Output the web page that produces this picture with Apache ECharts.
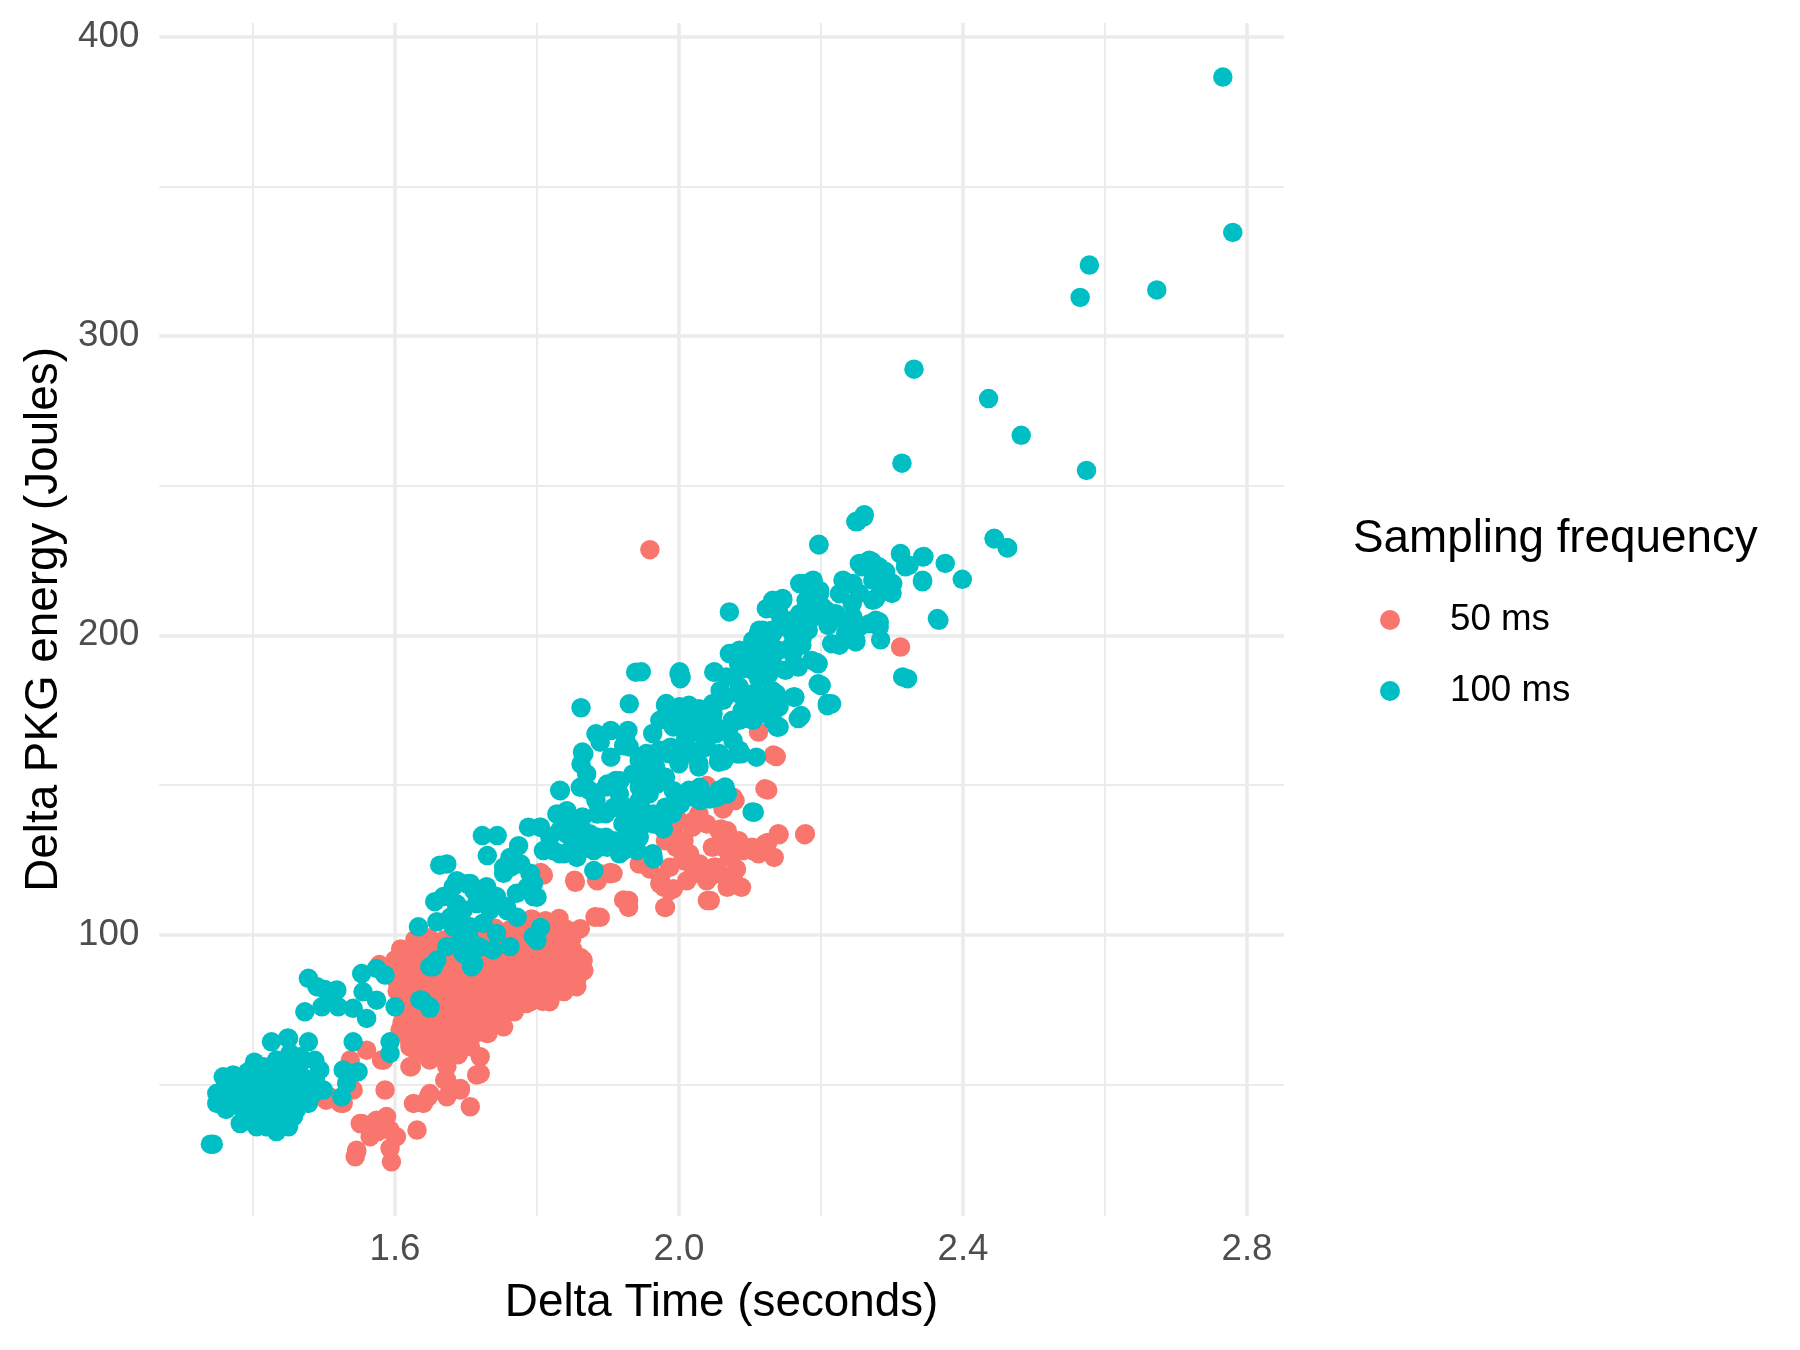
<!DOCTYPE html>
<html>
<head>
<meta charset="utf-8">
<title>Delta PKG energy vs Delta Time</title>
<script src="https://cdn.jsdelivr.net/npm/echarts@6/dist/echarts.min.js"></script>
<style>
  html, body { margin: 0; padding: 0; background: #fff; }
  #chart { width: 1800px; height: 1350px; }
</style>
</head>
<body>
<div id="chart"></div>
<script>
// legend / series names
const seriesNames = ['50 ms', '100 ms'];

// tick positions
const xMajorTicks = [1.6, 2.0, 2.4, 2.8];
const xMinorTicks = [1.4, 1.8, 2.2, 2.6];
const yMajorTicks = [100, 200, 300, 400];
const yMinorTicks = [50, 150, 250, 350];

// 50 ms sampling: [delta time (s), delta PKG energy (J)]
const pts50ms = [
  // lower left tail
  [1.560,61.4],[1.537,58.1],[1.581,58.1],[1.503,44.7],[1.508,45.8],[1.527,43.6],[1.541,48.1],[1.586,48.1],
  [1.553,36.9],[1.574,38.0],[1.588,39.2],[1.593,34.7],[1.565,32.5],[1.546,28.0],[1.544,25.8],[1.593,28.6],
  [1.595,24.1],[1.576,34.2],[1.578,90.0],[1.523,43.7],[1.551,36.9],[1.569,36.9],[1.602,32.5],[1.546,27.5],
  [1.537,49.2],
  [1.720,59.2],[1.715,53.1],[1.729,67.0],[1.706,42.5],[1.692,48.6],[1.673,45.8],[1.670,51.4],[1.673,55.9],
  [1.647,45.8],[1.640,43.6],[1.626,43.6],[1.631,34.7],[1.623,55.9],[1.649,58.1],[1.687,60.3],[1.696,64.8],
  [1.663,63.7],[1.640,64.8],[1.621,62.5],[1.607,68.1],[1.621,68.1],
  [1.584,58.1],[1.621,55.9],[1.673,60.3],[1.706,62.6],[1.720,53.6],[1.673,51.4],[1.692,48.1],[1.649,46.9],
  // dense core
  [1.792,105.2],[1.812,104.6],[1.831,105.4],
  [1.741,102.1],[1.762,101.6],[1.781,102.4],[1.800,101.8],[1.821,102.3],[1.842,101.7],[1.861,102.0],
  [1.628,98.3],[1.648,98.9],[1.669,98.2],[1.688,98.7],[1.709,98.4],[1.728,98.8],[1.749,98.1],[1.768,98.6],
  [1.789,98.3],[1.808,98.9],[1.829,98.2],[1.849,98.6],
  [1.608,95.2],[1.628,94.8],[1.649,95.3],[1.668,94.9],[1.689,95.1],[1.708,94.7],[1.729,95.3],[1.748,94.8],
  [1.769,95.2],[1.789,94.9],[1.808,95.3],[1.829,94.7],[1.850,95.1],
  [1.600,91.6],[1.619,91.3],[1.640,91.8],[1.659,91.4],[1.680,91.7],[1.699,91.2],[1.720,91.6],[1.739,91.3],
  [1.760,91.8],[1.779,91.4],[1.800,91.7],[1.819,91.2],[1.840,91.6],[1.859,91.3],
  [1.601,88.1],[1.621,87.8],[1.642,88.3],[1.661,87.9],[1.682,88.2],[1.701,87.7],[1.722,88.1],[1.741,87.8],
  [1.762,88.3],[1.781,87.9],[1.802,88.2],[1.821,87.7],[1.842,88.1],[1.861,87.9],
  [1.602,84.6],[1.622,84.3],[1.641,84.8],[1.662,84.4],[1.681,84.7],[1.702,84.2],[1.721,84.6],[1.742,84.3],
  [1.761,84.8],[1.782,84.4],[1.801,84.7],[1.822,84.2],[1.840,84.5],[1.856,84.9],
  [1.603,81.1],[1.621,80.8],[1.642,81.3],[1.661,80.9],[1.682,81.2],[1.701,80.7],[1.722,81.1],[1.741,80.8],
  [1.762,81.3],[1.781,80.9],[1.802,81.2],[1.821,80.7],[1.838,81.0],
  [1.609,77.6],[1.628,77.3],[1.649,77.8],[1.668,77.4],[1.689,77.7],[1.708,77.2],[1.729,77.6],[1.748,77.3],
  [1.769,77.8],[1.789,77.4],[1.808,77.7],
  [1.611,74.1],[1.629,73.8],[1.650,74.3],[1.669,73.9],[1.690,74.2],[1.709,73.7],[1.730,74.1],[1.749,73.8],
  [1.768,74.2],
  [1.610,70.6],[1.630,70.3],[1.651,70.8],[1.670,70.4],[1.691,70.7],[1.710,70.2],[1.731,70.6],[1.750,70.3],
  [1.612,67.1],[1.632,66.8],[1.652,67.3],[1.671,66.9],[1.692,67.2],[1.711,66.7],[1.731,67.0],
  [1.621,63.6],[1.640,63.3],[1.661,63.8],[1.680,63.4],[1.700,63.5],
  [1.632,60.1],[1.651,59.8],[1.670,60.3],[1.689,59.9],
  [1.818,77.6],[1.785,77.0],[1.753,69.2],[1.865,91.5],[1.856,82.6],[1.851,83.1],[1.818,78.2],
  // upper part of the red band
  [1.882,106.0],[1.922,111.6],[1.853,118.2],[1.884,118.2],[1.907,120.5],[1.809,119.9],[1.795,104.9],
  [1.805,120.8],[1.854,117.5],[1.885,118.0],[1.903,120.8],[1.927,110.8],[1.882,105.8],[1.861,92.4],[1.866,88.0],
  [1.981,109.1],[1.979,115.8],[1.992,115.3],[1.950,123.6],[1.974,119.2],[2.007,131.4],[2.021,138.1],
  [2.039,137.0],[2.039,149.8],[2.063,142.5],[2.068,134.7],[2.063,129.2],[2.077,127.0],[2.007,124.7],
  [2.021,122.5],[2.030,120.3],[2.011,118.0],[2.039,118.0],[2.044,111.4],[2.058,120.3],[2.077,118.0],
  [2.068,115.8],[2.049,122.5],
  [2.137,159.5],[2.125,148.3],[2.038,149.2],[2.076,145.9],[2.062,142.0],[2.029,137.5],[2.059,135.3],
  [2.141,133.4],[2.177,133.4],[2.125,130.8],[2.134,125.8],[2.104,128.1],[2.090,128.1],[2.062,129.2],
  [2.071,125.8],[2.052,122.5],[2.015,127.0],[2.029,123.6],[2.043,119.2],[2.081,121.9],[2.088,115.8],
  [2.040,111.4],[2.020,120.3],[2.006,125.8],[1.987,122.5],[1.973,117.0],[1.987,114.7],[1.980,109.1],
  [1.929,111.4],[1.929,109.1],[1.889,120.3],[1.903,120.3],[1.959,121.9],[1.944,123.6],[1.996,129.2],
  [1.992,134.7],[1.889,105.8],
  [2.112,167.7],[2.133,160.0],[2.121,148.7],[2.037,149.3],[2.070,145.9],[2.079,144.8],[2.178,133.7],
  [2.140,133.7],[2.121,130.3],[2.056,134.8],[2.084,131.4],[2.103,129.2],[2.112,127.0],[2.000,138.1],
  [2.019,135.9],[2.028,140.4],[1.981,131.4],[2.000,129.2],[2.047,129.2],
  // outliers
  [1.959,228.6],[2.312,196.1]
];

// 100 ms sampling: [delta time (s), delta PKG energy (J)]
const pts100ms = [
  // left cluster
  [1.478,85.4],[1.490,82.6],[1.501,81.7],[1.518,81.5],[1.473,74.2],[1.497,75.9],[1.508,78.1],[1.520,75.9],
  [1.541,75.4],[1.560,72.0],[1.553,87.0],[1.574,88.7],[1.586,86.5],[1.555,80.9],[1.574,78.1],[1.600,75.9],
  [1.593,64.2],[1.593,60.3],[1.541,64.2],[1.426,64.2],[1.450,65.3],[1.478,64.2],[1.466,59.2],[1.358,52.5],
  [1.375,52.5],[1.349,47.0],[1.349,43.6],[1.382,49.7],[1.400,51.4],[1.415,55.9],[1.433,58.1],[1.452,60.3],
  [1.471,58.1],[1.494,54.8],[1.499,48.1],[1.386,41.4],[1.382,36.9],[1.419,35.8],[1.433,34.2],[1.450,35.8],
  [1.410,47.0],[1.429,43.6],[1.452,42.5],[1.466,44.7],[1.476,49.2],[1.443,49.2],[1.368,44.7],[1.525,45.8],
  [1.527,54.8],[1.548,54.2],[1.532,50.3],[1.340,30.0],[1.344,30.0],
  [1.405,43.6],[1.424,51.4],[1.438,53.6],[1.457,54.8],[1.396,47.0],[1.429,39.2],[1.457,39.2],[1.478,43.6],
  [1.415,40.3],[1.438,47.0],[1.405,35.8],[1.372,45.8],[1.372,53.1],[1.449,65.5],
  [1.361,48.5],[1.391,44.1],[1.401,39.2],[1.421,45.1],[1.441,41.3],[1.461,47.2],[1.472,52.1],[1.488,51.0],
  [1.442,56.2],[1.412,50.3],[1.392,54.0],[1.451,37.6],[1.422,38.3],[1.362,41.6],[1.483,46.4],[1.431,47.6],
  [1.452,51.6],[1.402,57.4],[1.487,58.0],[1.395,37.9],[1.462,41.8],
  [1.638,78.1],[1.649,75.4],[1.654,89.3],[1.708,89.3],
  // band 90-125
  [1.663,123.2],[1.656,111.0],[1.668,112.7],[1.682,116.0],[1.706,117.1],[1.729,116.0],[1.743,112.7],
  [1.687,109.3],[1.696,108.2],[1.715,110.4],[1.734,108.2],[1.757,109.3],[1.771,113.8],[1.790,116.0],
  [1.795,112.7],[1.790,120.5],[1.753,120.5],[1.764,122.7],[1.633,102.6],[1.659,104.3],[1.682,102.6],
  [1.706,102.6],[1.724,103.8],[1.743,100.4],[1.762,96.0],[1.738,94.9],[1.797,99.3],[1.649,89.3],
  [1.659,91.5],[1.673,96.0],[1.692,98.2],[1.706,91.5],[1.708,89.3],[1.696,93.7],[1.635,78.2],[1.649,75.9],
  [1.723,133.1],[1.744,133.1],[1.730,126.4],[1.788,135.9],[1.805,135.9],[1.774,129.7],[1.762,125.8],
  [1.753,122.5],[1.777,123.6],[1.791,120.3],[1.795,117.0],[1.800,112.5],[1.786,115.8],[1.673,123.6],
  [1.687,118.0],[1.701,117.0],[1.711,114.7],[1.734,113.6],[1.744,110.2],[1.687,110.2],[1.678,105.8],
  [1.692,102.4],[1.706,102.4],[1.706,98.0],[1.720,95.8],[1.758,108.0],[1.772,105.8],[1.805,102.4],
  [1.800,98.0],[1.795,99.4],[1.711,90.2],
  // band 125-165
  [1.866,160.4],[1.889,164.3],[1.922,163.1],[1.946,158.1],[1.964,160.4],[1.988,162.6],[2.011,161.5],
  [2.039,162.6],[2.063,158.1],[2.082,160.4],[1.861,149.2],[1.870,153.7],[1.880,147.0],[1.899,150.3],
  [1.917,151.4],[1.941,152.6],[1.955,153.7],[1.969,150.3],[1.992,148.1],[2.007,145.9],[2.030,144.8],
  [2.054,145.9],[2.068,147.0],[1.833,148.1],[1.828,140.3],[1.842,141.4],[1.861,137.0],[1.885,140.3],
  [1.908,142.5],[1.927,139.2],[1.946,142.5],[1.964,140.3],[1.983,142.5],[1.842,133.6],[1.866,131.4],
  [1.885,132.5],[1.908,131.4],[1.927,132.5],[1.946,135.9],[1.964,137.0],[1.978,135.3],[1.823,128.1],
  [1.838,127.0],[1.856,125.8],[1.880,128.1],[1.899,129.2],[1.922,128.1],[1.941,128.1],[1.964,125.3],
  [1.880,121.4],[2.002,143.6],
  // band 125-205 (upper middle)
  [1.939,187.7],[2.000,187.2],[2.002,185.5],[2.049,187.7],[1.862,175.8],[1.930,177.1],[1.981,176.6],
  [2.000,176.0],[2.014,176.6],[2.028,175.5],[2.047,177.1],[2.058,181.6],[2.073,193.9],[2.084,194.4],
  [2.112,200.6],[2.131,201.7],[2.154,202.8],[2.182,201.7],[2.210,203.3],[2.215,197.2],[2.103,195.5],
  [2.121,196.1],[2.140,195.0],[2.159,196.7],[2.173,196.7],[2.187,191.6],[2.196,190.5],[2.084,190.5],
  [2.107,189.4],[2.131,190.5],[2.150,188.3],[2.168,189.4],[2.196,183.8],[2.215,177.1],[2.161,179.4],
  [2.168,172.2],[2.138,169.3],[2.121,174.9],[2.103,176.0],[2.107,180.5],[2.131,181.6],[2.112,185.5],
  [2.065,179.4],[2.084,180.5],[2.089,174.9],[2.075,171.6],[2.063,168.2],[2.084,160.4],[2.056,157.6],
  [2.028,156.0],[1.883,167.1],[1.904,168.2],[1.928,168.2],[1.864,161.0],[1.862,157.0],[1.904,159.3],
  [1.925,164.9],[1.930,162.7],[2.000,171.6],[1.991,174.9],[2.014,172.7],[2.028,169.3],[2.047,171.6],
  [2.037,166.0],[2.009,164.9],[2.019,160.4],[2.000,157.1],[2.028,157.1],[2.056,158.2],[1.986,160.4],
  [1.967,156.0],[1.981,152.6],[1.958,152.6],[1.944,158.2],[1.935,153.7],[1.944,149.3],[1.832,148.2],
  [1.841,140.4],[1.850,135.9],[1.864,139.3],[1.874,148.2],[1.883,144.8],[1.897,149.3],[1.911,151.5],
  [1.916,147.0],[1.925,142.6],[1.944,144.8],[1.958,147.0],[1.897,140.4],[1.911,142.6],[1.921,137.0],
  [1.944,138.1],[1.967,138.1],[1.981,142.6],[2.000,144.8],[2.014,148.2],[1.991,140.4],[1.804,135.9],
  [1.832,134.8],[1.818,132.5],[1.850,131.4],[1.874,133.7],[1.897,132.5],[1.925,131.4],[1.944,132.5],
  [1.963,127.0],[2.028,147.5],[2.056,148.2],[2.065,149.3],[2.103,141.0],[1.809,128.1],[1.832,127.0],
  [1.860,128.1],[1.888,129.2],[1.916,127.0],
  [2.106,140.9],[2.067,147.5],[2.043,145.3],[2.020,145.9],[2.029,149.2],[2.088,160.4],[2.062,158.1],
  // 160-215
  [2.071,207.8],[2.001,187.8],[2.003,186.1],[2.050,187.8],[1.947,187.8],[2.123,208.9],[2.132,211.7],
  [2.139,209.5],[2.113,201.7],[2.132,200.6],[2.118,197.2],[2.104,198.3],[2.085,195.0],[2.071,193.9],
  [2.099,193.9],[2.113,190.5],[2.132,190.5],[2.127,187.2],[2.104,188.3],[2.085,188.3],[2.067,186.1],
  [2.085,182.7],[2.104,180.5],[2.123,178.3],[2.137,180.5],[2.141,176.1],[2.132,171.6],[2.113,173.8],
  [2.095,176.1],[2.104,171.6],[2.085,171.6],[2.062,178.3],[2.048,173.8],[2.034,170.5],[2.015,167.2],
  [2.052,167.2],[2.071,169.4],[2.076,164.9],[2.001,176.1],[1.982,177.2],[1.973,171.6],[1.963,167.2],
  [1.992,169.4],[1.954,160.5],[1.973,161.6],[2.001,160.5],[2.029,161.6],[2.057,160.5],[2.085,161.6],
  [2.109,159.3],[2.141,169.4],[2.170,172.7],[2.163,179.4],
  [2.197,230.4],[2.249,238.0],[2.260,239.5],[2.200,183.3],[2.209,177.2],[2.315,186.1],
  // upper right part of the band
  [2.261,240.3],[2.251,238.0],[2.197,230.2],[2.444,232.4],[2.462,229.3],[2.375,224.0],[2.399,218.7],
  [2.345,226.3],[2.312,227.2],[2.319,222.9],[2.343,217.9],[2.300,214.0],[2.291,221.3],[2.272,224.6],
  [2.258,222.9],[2.235,217.3],[2.277,212.3],[2.366,205.0],[2.322,185.5],[2.284,198.5],[2.282,204.5],
  [2.268,203.9],[2.249,197.8],[2.226,197.2],[2.244,210.6],[2.254,214.0],[2.188,207.3],[2.202,209.5],
  [2.170,217.3],[2.186,217.9],[2.198,214.0],[2.221,206.2],[2.235,203.9],[2.146,211.7],[2.151,202.8],
  [2.160,193.8],[2.174,199.4],[2.193,191.0],[2.163,179.3],[2.200,183.2],[2.209,176.5],[2.172,173.2],
  [2.343,226.2],[2.364,205.6],[2.312,227.3],[2.324,223.4],[2.343,218.4],[2.301,217.3],[2.291,220.6],
  [2.282,222.8],[2.254,224.0],[2.268,225.1],[2.273,218.4],[2.291,216.1],[2.245,217.3],[2.231,218.4],
  [2.226,213.9],[2.273,211.7],[2.282,202.8],[2.277,205.0],[2.249,198.3],[2.226,196.7],[2.235,200.6],
  [2.254,202.8],[2.245,206.1],[2.221,207.2],[2.207,208.4],[2.174,217.3],[2.189,218.4],[2.198,215.0],
  [2.193,209.5],[2.203,206.1],[2.179,211.7],[2.170,207.2],[2.184,205.0],[2.146,212.3],[2.141,207.2],
  [2.118,201.7],[2.141,202.8],[2.160,205.0],[2.151,202.8],[2.160,200.6],
  // sparse high values
  [2.766,386.5],[2.780,334.6],[2.578,323.7],[2.565,312.9],[2.673,315.4],[2.331,288.9],[2.436,279.1],
  [2.482,266.8],[2.314,257.5],[2.574,255.1],[2.444,232.2],[2.463,229.2]
];

const fontFamily = '"Liberation Sans", Arial, sans-serif';
const gridColor = '#EBEBEB';

let myChart = echarts.init(document.getElementById('chart'), null, { renderer: 'canvas' });

myChart.setOption({
  animation: false,
  backgroundColor: '#ffffff',
  title: {
    text: 'Sampling frequency',
    left: 1353,
    top: 516,
    padding: 0,
    textStyle: { fontFamily: fontFamily, fontSize: 45.8, fontWeight: 'normal', color: '#000000' }
  },
  legend: {
    orient: 'vertical',
    left: 1380,
    top: 600,
    padding: 0,
    icon: 'circle',
    itemWidth: 110,
    itemHeight: 20,
    itemGap: 31,
    data: seriesNames,
    textStyle: { fontFamily: fontFamily, fontSize: 36.7, color: '#000000', lineHeight: 40 }
  },
  grid: { left: 159.3, right: 516.1, top: 22.9, bottom: 134 },
  xAxis: [
    {
      type: 'value', position: 'bottom', min: 1.268, max: 2.852,
      axisLine: { show: false },
      axisTick: { show: false, customValues: xMajorTicks },
      axisLabel: {
        customValues: xMajorTicks,
        formatter: v => v.toFixed(1),
        color: '#4D4D4D', fontFamily: fontFamily, fontSize: 36.7, margin: 15.5
      },
      splitLine: { show: true, lineStyle: { color: gridColor, width: 3.5 } },
      name: 'Delta Time (seconds)',
      nameLocation: 'middle',
      nameGap: 64.5,
      nameTextStyle: { fontFamily: fontFamily, fontSize: 45.8, color: '#000000' }
    },
    {
      type: 'value', position: 'top', min: 1.268, max: 2.852,
      axisLine: { show: false },
      axisTick: { show: false, customValues: xMinorTicks },
      axisLabel: { show: false },
      splitLine: { show: true, lineStyle: { color: gridColor, width: 2 } }
    }
  ],
  yAxis: [
    {
      type: 'value', position: 'left', min: 6, max: 404.6,
      axisLine: { show: false },
      axisTick: { show: false, customValues: yMajorTicks },
      axisLabel: {
        customValues: yMajorTicks,
        color: '#4D4D4D', fontFamily: fontFamily, fontSize: 36.7, margin: 20
      },
      splitLine: { show: true, lineStyle: { color: gridColor, width: 3.5 } },
      name: 'Delta PKG energy (Joules)',
      nameLocation: 'middle',
      nameRotate: 90,
      nameGap: 89,
      nameTextStyle: { fontFamily: fontFamily, fontSize: 45.8, color: '#000000' }
    },
    {
      type: 'value', position: 'right', min: 6, max: 404.6,
      axisLine: { show: false },
      axisTick: { show: false, customValues: yMinorTicks },
      axisLabel: { show: false },
      splitLine: { show: true, lineStyle: { color: gridColor, width: 2 } }
    }
  ],
  series: [
    {
      name: seriesNames[0],
      type: 'scatter',
      data: pts50ms,
      symbol: 'circle',
      symbolSize: 19.5,
      itemStyle: { color: '#F8766D', opacity: 1 },
      emphasis: { disabled: true }
    },
    {
      name: seriesNames[1],
      type: 'scatter',
      data: pts100ms,
      symbol: 'circle',
      symbolSize: 19.5,
      itemStyle: { color: '#00BFC4', opacity: 1 },
      emphasis: { disabled: true }
    }
  ]
});
</script>
</body>
</html>
